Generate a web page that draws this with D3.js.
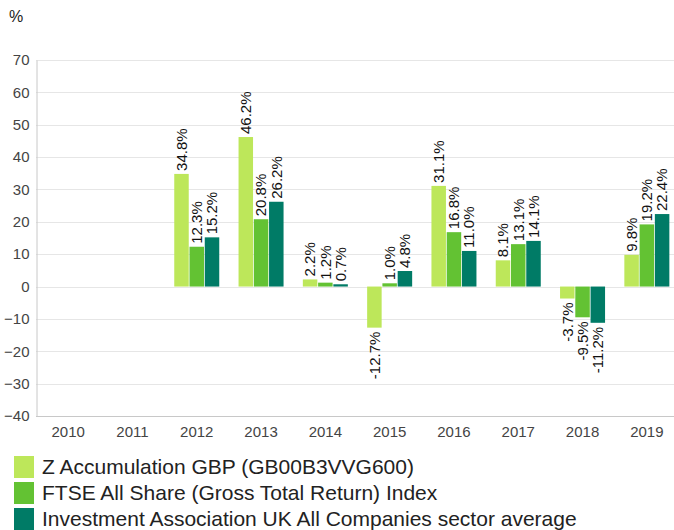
<!DOCTYPE html>
<html>
<head>
<meta charset="utf-8">
<script src="https://cdn.jsdelivr.net/npm/d3@7"></script>
<style>
  body { margin: 0; background: #fff; }
  svg { display: block; font-family: "Liberation Sans", Arial, sans-serif; }
</style>
</head>
<body>
<div id="chart"></div>
<script>
const years = ["2010", "2011", "2012", "2013", "2014", "2015", "2016", "2017", "2018", "2019"];
const seriesNames = [
    "Z Accumulation GBP (GB00B3VVG600)",
    "FTSE All Share (Gross Total Return) Index",
    "Investment Association UK All Companies sector average"
];
const fundValues = [null, null, 34.8, 46.2, 2.2, -12.7, 31.1, 8.1, -3.7, 9.8];
const indexValues = [null, null, 12.3, 20.8, 1.2, 1.0, 16.8, 13.1, -9.5, 19.2];
const sectorValues = [null, null, 15.2, 26.2, 0.7, 4.8, 11.0, 14.1, -11.2, 22.4];
const yTicks = [-40, -30, -20, -10, 0, 10, 20, 30, 40, 50, 60, 70];
const colors = ["#bde75a", "#63c233", "#007b66"];

function init() {
    var w = 674;
    var h = 530;
    var left = 36, right = 679, top = 60, bottom = 416;

    const svg = d3.select("#chart")
        .append("svg")
        .attr("width", w)
        .attr("height", h);

    const allSeries = [fundValues, indexValues, sectorValues];

    const xScale = d3.scaleBand()
        .domain(years)
        .range([left, right])
        .paddingInner(0.3)
        .paddingOuter(0.15);

    const xInner = d3.scaleBand()
        .domain(d3.range(allSeries.length))
        .range([0, xScale.bandwidth()])
        .paddingInner(0.05);

    const yScale = d3.scaleLinear()
        .domain([-40, 70])
        .range([bottom, top]);

    // grid
    svg.append("g")
        .selectAll("line")
        .data(yTicks)
        .enter()
        .append("line")
        .attr("x1", left)
        .attr("x2", w)
        .attr("y1", d => Math.round(yScale(d)) + 0.5)
        .attr("y2", d => Math.round(yScale(d)) + 0.5)
        .attr("stroke", d => d === -40 ? "#c8c8c8" : "#e6e6e6");

    // y axis
    const yAxis = d3.axisLeft(yScale).tickValues(yTicks).tickSize(0).tickPadding(7);
    const gy = svg.append("g")
        .attr("transform", `translate(${left + 0.5}, 0)`)
        .call(yAxis);
    gy.select(".domain").attr("stroke", "#c8c8c8");
    gy.selectAll("text")
        .attr("font-size", 15)
        .attr("fill", "#444")
        .attr("font-family", "Liberation Sans, Arial, sans-serif");

    svg.append("text")
        .attr("x", 9)
        .attr("y", 22)
        .attr("font-size", 16)
        .attr("fill", "#222")
        .text("%");

    // x axis labels
    const xAxis = d3.axisBottom(xScale).tickSize(0).tickPadding(10);
    const gx = svg.append("g")
        .attr("transform", `translate(0, ${bottom})`)
        .call(xAxis);
    gx.select(".domain").remove();
    gx.selectAll("text")
        .attr("font-size", 15)
        .attr("fill", "#444")
        .attr("font-family", "Liberation Sans, Arial, sans-serif");

    // bars
    allSeries.forEach((values, s) => {
        const pts = values
            .map((v, i) => ({ year: years[i], v: v }))
            .filter(d => d.v !== null);

        const g = svg.append("g");
        g.selectAll("rect")
            .data(pts)
            .enter()
            .append("rect")
            .attr("x", d => xScale(d.year) + xInner(s))
            .attr("width", xInner.bandwidth())
            .attr("y", d => yScale(Math.max(0, d.v)))
            .attr("height", d => Math.abs(yScale(d.v) - yScale(0)))
            .attr("fill", colors[s]);

        g.selectAll("text")
            .data(pts)
            .enter()
            .append("text")
            .attr("transform", d => {
                const cx = xScale(d.year) + xInner(s) + xInner.bandwidth() / 2;
                const cy = d.v >= 0 ? yScale(d.v) - 3 : yScale(d.v) + 4;
                return `translate(${cx}, ${cy}) rotate(-90)`;
            })
            .attr("text-anchor", d => d.v >= 0 ? "start" : "end")
            .attr("dy", "0.35em")
            .attr("font-size", 15)
            .attr("fill", "#111")
            .text(d => d.v.toFixed(1) + "%");
    });

    // legend
    const legend = svg.append("g")
        .selectAll("g")
        .data(seriesNames)
        .enter()
        .append("g")
        .attr("transform", (d, i) => `translate(14, ${456 + i * 26})`);

    legend.append("rect")
        .attr("width", 20)
        .attr("height", 22)
        .attr("fill", (d, i) => colors[i]);

    legend.append("text")
        .attr("x", 28)
        .attr("y", 11)
        .attr("dy", "0.35em")
        .attr("font-size", 21)
        .attr("fill", "#222")
        .text(d => d);
}

window.onload = init;
</script>
</body>
</html>
